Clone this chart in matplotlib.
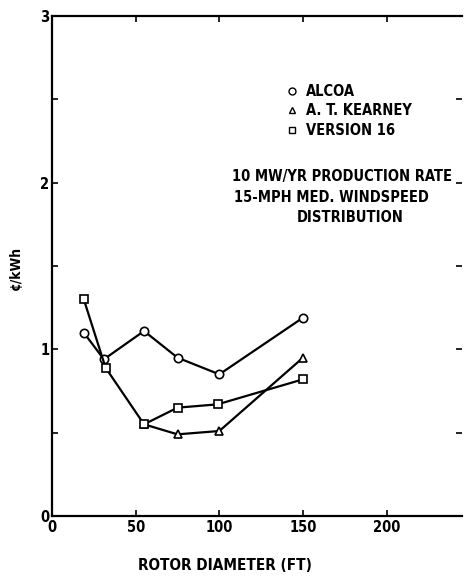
import matplotlib
matplotlib.use("Agg")
import matplotlib.pyplot as plt
from matplotlib.lines import Line2D
from matplotlib.ticker import MultipleLocator

# Data
alcoa_x = [19, 31, 55, 75, 100, 150]
alcoa_y = [1.10, 0.94, 1.11, 0.95, 0.85, 1.19]
kearney_x = [55, 75, 100, 150]
kearney_y = [0.55, 0.49, 0.51, 0.95]
v16_x = [19, 32, 55, 75, 99, 150]
v16_y = [1.30, 0.89, 0.55, 0.65, 0.67, 0.82]
xticks = [0, 50, 100, 150, 200]
yticks = [0, 1, 2, 3]
series_labels = ['ALCOA', 'A. T. KEARNEY', 'VERSION 16']

plt.rcParams['font.family'] = ['DejaVu Sans']
plt.rcParams['font.stretch'] = 'condensed'
plt.rcParams['font.weight'] = 'bold'

W, H = 466, 579
fig = plt.figure(figsize=(W / 100, H / 100), dpi=100)
ax = fig.add_axes([52/W, 63/H, 410/W, 500/H])

def ax_xy(px, py):
    """pixel (from top-left of figure) to axes fraction"""
    return (px - 52) / 410, (516 - py) / 500

mk = dict(color='black', lw=1.6, markersize=6, markerfacecolor='white',
          markeredgecolor='black', markeredgewidth=1.2)
ax.plot(alcoa_x, alcoa_y, marker='o', **mk)
ax.plot(kearney_x, kearney_y, marker='^', **mk)
ax.plot(v16_x, v16_y, marker='s', **mk)

ax.set_xlim(0, 245)
ax.set_ylim(0, 3)
ax.set_xticks(xticks)
ax.set_yticks(yticks)
ax.yaxis.set_minor_locator(MultipleLocator(0.5))
ax.tick_params(axis='both', which='both', direction='in', length=4, width=1.2,
               top=True, right=True, labelsize=10.5, pad=3)
ax.tick_params(axis='y', which='major', pad=2)
ax.set_xticklabels([str(v) for v in xticks])
ax.set_yticklabels([str(v) for v in yticks])
ax.spines['right'].set_visible(False)
for s in ['left', 'bottom', 'top']:
    ax.spines[s].set_linewidth(1.6)

ax.set_xlabel('ROTOR DIAMETER (FT)', fontsize=11, fontweight='bold')
ax.xaxis.set_label_coords(ax_xy(225, 0)[0], -0.083)
ax.set_ylabel('¢/kWh', fontsize=10, fontweight='bold')
ax.yaxis.set_label_coords(-0.072, ax_xy(0, 268)[1])

handles = [Line2D([], [], ls='none', marker=m, markersize=5, markerfacecolor='white',
                  markeredgecolor='black', markeredgewidth=1.0) for m in ['o', '^', 's']]
ax.legend(handles, series_labels, frameon=False,
          loc='upper left', bbox_to_anchor=ax_xy(288, 84),
          handlelength=0.6, handletextpad=0.6, labelspacing=0.3, fontsize=10.5,
          borderaxespad=0, borderpad=0)

tkw = dict(transform=ax.transAxes, fontsize=10.5, va='baseline')
ax.text(*ax_xy(232, 181), '10 MW/YR PRODUCTION RATE', ha='left', **tkw)
ax.text(*ax_xy(234, 201.5), '15-MPH MED. WINDSPEED', ha='left', **tkw)
ax.text(*ax_xy(350, 222), 'DISTRIBUTION', ha='center', **tkw)

fig.savefig('out.png', dpi=100)
